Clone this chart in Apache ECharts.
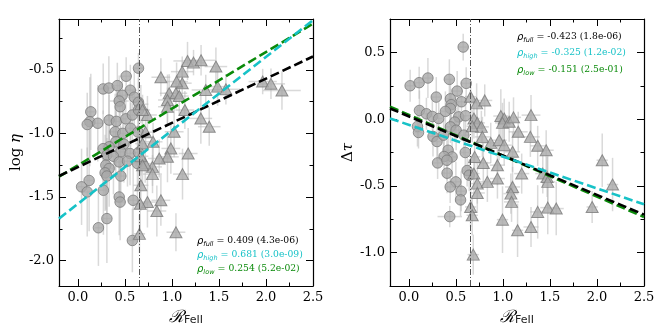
<!DOCTYPE html>
<html><head><meta charset="utf-8">
<script src="https://cdn.jsdelivr.net/npm/echarts@6/dist/echarts.min.js"></script>
<style>html,body{margin:0;padding:0;background:#fff}#c{width:664px;height:332px}</style>
</head><body><div id="c"></div>
<script>
// ---------- data: [x, y, xerr, yerr] ----------
const leftLow = [
[0.645,-0.487,0.05,0.12],[0.514,-0.55,0.06,0.15],[0.27,-0.65,0.05,0.2],[0.33,-0.643,0.08,0.25],
[0.42,-0.624,0.05,0.18],[0.558,-0.66,0.07,0.2],[0.472,-0.70,0.06,0.15],[0.44,-0.745,0.1,0.2],
[0.60,-0.715,0.06,0.22],[0.645,-0.755,0.05,0.15],[0.45,-0.79,0.05,0.2],[0.138,-0.83,0.04,0.3],
[0.128,-0.908,0.05,0.35],[0.10,-0.93,0.04,0.25],[0.212,-0.92,0.06,0.3],[0.333,-0.895,0.05,0.2],
[0.41,-0.905,0.07,0.25],[0.51,-0.885,0.06,0.2],[0.58,-0.855,0.05,0.2],[0.645,-0.816,0.04,0.25],
[0.397,-0.987,0.06,0.3],[0.478,-1.0,0.05,0.25],[0.562,-0.96,0.06,0.2],[0.64,-0.99,0.05,0.2],
[0.404,-1.066,0.06,0.25],[0.49,-1.085,0.05,0.3],[0.333,-1.105,0.05,0.25],[0.269,-1.12,0.04,0.3],
[0.457,-1.145,0.06,0.2],[0.555,-1.158,0.05,0.25],[0.645,-1.15,0.05,0.3],[0.309,-1.17,0.05,0.25],
[0.379,-1.18,0.06,0.3],[0.44,-1.224,0.05,0.25],[0.528,-1.218,0.06,0.2],[0.634,-1.237,0.05,0.3],
[0.298,-1.25,0.04,0.35],[0.333,-1.276,0.05,0.3],[0.29,-1.31,0.05,0.3],[0.309,-1.335,0.05,0.3],
[0.457,-1.335,0.06,0.25],[0.12,-1.37,0.04,0.4],[0.04,-1.42,0.05,0.3],[0.10,-1.46,0.05,0.35],
[0.272,-1.447,0.05,0.35],[0.44,-1.5,0.05,0.3],[0.45,-1.54,0.06,0.3],[0.588,-1.526,0.05,0.35],
[0.309,-1.67,0.05,0.35],[0.219,-1.742,0.04,0.3],[0.58,-1.842,0.05,0.25]
];
const leftHigh = [
[1.166,-0.43,0.15,0.15],[1.23,-0.443,0.12,0.1],[1.31,-0.425,0.15,0.12],[1.468,-0.474,0.12,0.15],
[0.883,-0.558,0.1,0.15],[1.11,-0.514,0.12,0.12],[1.11,-0.605,0.1,0.15],[1.05,-0.592,0.12,0.15],
[0.971,-0.684,0.1,0.15],[1.043,-0.684,0.12,0.12],[0.953,-0.737,0.1,0.2],[1.078,-0.706,0.1,0.15],
[1.138,-0.816,0.1,0.15],[1.36,-0.658,0.15,0.12],[1.486,-0.632,0.12,0.15],[1.574,-0.653,0.15,0.12],
[1.965,-0.592,0.15,0.1],[2.053,-0.61,0.15,0.12],[2.17,-0.663,0.2,0.15],[1.308,-0.882,0.12,0.2],
[1.397,-0.947,0.12,0.15],[1.024,-0.987,0.1,0.2],[0.74,-0.855,0.1,0.15],[0.67,-0.77,0.08,0.15],
[0.688,-0.816,0.08,0.12],[0.953,-0.79,0.1,0.15],[0.72,-0.99,0.08,0.15],[0.80,-1.066,0.1,0.15],
[0.688,-1.08,0.08,0.15],[0.989,-1.118,0.1,0.2],[0.953,-1.184,0.12,0.2],[1.173,-1.158,0.1,0.2],
[0.865,-1.197,0.12,0.15],[0.794,-1.263,0.1,0.15],[0.794,-1.32,0.1,0.15],[0.716,-1.237,0.1,0.15],
[1.113,-1.32,0.1,0.2],[0.67,-1.408,0.08,0.2],[0.74,-1.54,0.1,0.2],[0.883,-1.526,0.1,0.2],
[0.84,-1.61,0.1,0.2],[0.663,-1.553,0.08,0.2],[1.043,-1.777,0.1,0.15],[0.655,-1.79,0.06,0.15],
[0.67,-1.18,0.08,0.15],[0.688,-1.25,0.08,0.15]
];
const rightLow = [
[0.578,0.54,0.05,0.1],[0.014,0.25,0.04,0.12],[0.11,0.273,0.05,0.12],[0.203,0.308,0.05,0.15],
[0.431,0.298,0.05,0.15],[0.61,0.268,0.05,0.12],[0.292,0.165,0.05,0.15],[0.514,0.21,0.06,0.15],
[0.442,0.152,0.05,0.15],[0.45,0.108,0.05,0.12],[0.56,0.13,0.05,0.15],[0.442,0.08,0.05,0.12],
[0.113,0.065,0.04,0.15],[0.187,0.04,0.05,0.12],[0.25,0.02,0.05,0.15],[0.318,0.005,0.04,0.12],
[0.389,0.058,0.05,0.15],[0.53,0.017,0.05,0.12],[0.603,0.025,0.05,0.15],[0.488,-0.022,0.05,0.15],
[0.442,-0.058,0.05,0.12],[0.503,-0.083,0.06,0.15],[0.092,-0.055,0.04,0.15],[0.103,-0.1,0.04,0.12],
[0.257,-0.13,0.05,0.15],[0.3,-0.168,0.05,0.15],[0.37,-0.12,0.05,0.12],[0.585,-0.12,0.05,0.15],
[0.6,-0.25,0.05,0.15],[0.418,-0.233,0.05,0.12],[0.46,-0.283,0.05,0.15],[0.375,-0.28,0.05,0.15],
[0.306,-0.328,0.05,0.12],[0.405,-0.308,0.06,0.15],[0.62,-0.385,0.05,0.12],[0.642,-0.42,0.04,0.12],
[0.407,-0.405,0.05,0.15],[0.5,-0.47,0.05,0.15],[0.44,-0.508,0.05,0.12],[0.557,-0.54,0.05,0.15],
[0.55,-0.605,0.05,0.12],[0.435,-0.73,0.13,0.08]
];
const rightHigh = [
[0.657,0.168,0.06,0.12],[0.721,0.118,0.08,0.15],[0.807,0.14,0.08,0.12],[0.692,0.005,0.06,0.15],
[0.728,-0.028,0.08,0.15],[0.771,-0.058,0.08,0.12],[0.674,-0.053,0.06,0.12],[0.782,-0.133,0.08,0.15],
[0.871,-0.178,0.08,0.15],[0.96,-0.158,0.08,0.15],[0.978,0.023,0.08,0.2],[1.014,0.005,0.08,0.15],
[0.996,-0.028,0.08,0.15],[1.067,-0.02,0.08,0.15],[1.113,0.013,0.08,0.15],[1.163,-0.095,0.1,0.15],
[1.299,0.03,0.1,0.15],[1.292,-0.133,0.1,0.15],[1.37,-0.2,0.08,0.15],[1.46,-0.233,0.08,0.15],
[1.014,-0.195,0.08,0.15],[1.103,-0.245,0.08,0.15],[0.942,-0.345,0.08,0.15],[0.70,-0.283,0.06,0.12],
[0.792,-0.328,0.08,0.15],[0.692,-0.408,0.06,0.15],[1.2,-0.408,0.08,0.15],[1.424,-0.408,0.08,0.15],
[1.47,-0.433,0.08,0.15],[1.477,-0.47,0.08,0.2],[0.728,-0.483,0.08,0.15],[0.835,-0.47,0.08,0.15],
[1.103,-0.508,0.08,0.15],[0.942,-0.445,0.08,0.15],[0.728,-0.553,0.08,0.15],[1.085,-0.558,0.08,0.15],
[1.092,-0.62,0.08,0.15],[0.657,-0.658,0.06,0.15],[0.674,-0.72,0.06,0.15],[0.996,-0.753,0.06,0.25],
[1.156,-0.833,0.06,0.2],[1.299,-0.808,0.08,0.15],[1.37,-0.695,0.08,0.2],[1.477,-0.663,0.08,0.2],
[1.567,-0.67,0.08,0.2],[1.949,-0.658,0.06,0.12],[2.056,-0.308,0.06,0.2],[2.166,-0.49,0.06,0.2],
[0.685,-1.015,0.06,0.15]
];
// fit lines: y at x = fitX[0], fitX[1]
const fitX = [-0.2, 2.5];
const leftFitFull = [-1.335, -0.395];
const leftFitHigh = [-1.67, -0.11];
const leftFitLow  = [-1.34, -0.137];
const rightFitFull = [0.08, -0.715];
const rightFitHigh = [0.005, -0.638];
const rightFitLow  = [0.093, -0.733];
const threshold = [0.65];
const xRange = [-0.2, 2.5];
const leftYRange = [-2.2, -0.1];
const rightYRange = [-1.25, 0.75];
const leftStats = [
  ['full', '0.409 (4.3e-06)'], ['high', '0.681 (3.0e-09)'], ['low', '0.254 (5.2e-02)']
];
const rightStats = [
  ['full', '-0.423 (1.8e-06)'], ['high', '-0.325 (1.2e-02)'], ['low', '-0.151 (2.5e-01)']
];

// ---------- styling ----------
const C_BLACK = '#000000', C_CYAN = '#17c2c7', C_GREEN = '#0a8a0a';
const statColors = {full: C_BLACK, high: C_CYAN, low: C_GREEN};
const SERIF = 'DejaVu Serif', SANS = 'DejaVu Sans';

function axis(kind, gridIndex, position, range, showLabels, name, nameGap, nameRich) {
  const a = {
    type: 'value', gridIndex, position, min: range[0], max: range[1],
    minInterval: 0.5, maxInterval: 0.5, splitNumber: 5,
    axisLine: {show: true, onZero: false, lineStyle: {color: '#000', width: 1.2}},
    axisTick: {show: true, inside: true, length: 7, lineStyle: {color: '#000', width: 1}},
    minorTick: {show: true, splitNumber: 2, length: 3.5, lineStyle: {color: '#000', width: 1}},
    splitLine: {show: false},
    axisLabel: {
      show: showLabels, fontFamily: SERIF, fontSize: 13, color: '#000', margin: 5,
      showMinLabel: kind === 'x' ? false : false,
      showMaxLabel: kind === 'x' ? true : false,
      formatter: v => v.toFixed(1)
    }
  };
  if (name) {
    a.name = name; a.nameLocation = 'middle'; a.nameGap = nameGap;
    a.nameTextStyle = {rich: nameRich};
    if (kind === 'y') a.nameRotate = 90;
  }
  return a;
}
const xRich = {
  r: {fontFamily: SERIF, fontSize: 17, fontStyle: 'italic', color: '#000'},
  s: {fontFamily: SANS, fontSize: 11, color: '#222', verticalAlign: 'bottom', padding: [6, 0, 0, 0]}
};
const yRich = {
  n: {fontFamily: SERIF, fontSize: 15, color: '#000'},
  e: {fontFamily: SERIF, fontSize: 15, fontStyle: 'italic', color: '#000'}
};

function errRender(params, api) {
  const x = api.value(0), y = api.value(1), xe = api.value(2), ye = api.value(3);
  const l = api.coord([x - xe, y]), r = api.coord([x + xe, y]);
  const t = api.coord([x, y + ye]), b = api.coord([x, y - ye]);
  const style = {stroke: 'rgba(185,185,185,0.55)', lineWidth: 1.5};
  return {type: 'group', children: [
    {type: 'line', shape: {x1: l[0], y1: l[1], x2: r[0], y2: r[1]}, style},
    {type: 'line', shape: {x1: t[0], y1: t[1], x2: b[0], y2: b[1]}, style}
  ]};
}
const markerStyle = {color: '#a9a9a9', borderColor: '#7a7a7a', borderWidth: 1};

function panelSeries(ax, low, high, fits) {
  const s = [];
  s.push({type: 'custom', xAxisIndex: ax, yAxisIndex: ax, data: low, renderItem: errRender, clip: true, z: 1, silent: true});
  s.push({type: 'custom', xAxisIndex: ax, yAxisIndex: ax, data: high, renderItem: errRender, clip: true, z: 1, silent: true});
  s.push({type: 'scatter', xAxisIndex: ax, yAxisIndex: ax, data: low.map(d => [d[0], d[1]]),
    symbol: 'circle', symbolSize: 10.5, itemStyle: markerStyle, z: 3, silent: true});
  s.push({type: 'scatter', xAxisIndex: ax, yAxisIndex: ax, data: high.map(d => [d[0], d[1]]),
    symbol: 'triangle', symbolSize: [12, 11], itemStyle: markerStyle, z: 3, silent: true});
  const order = [['low', C_GREEN], ['full', C_BLACK], ['high', C_CYAN]];
  order.forEach(([k, col], i) => {
    const ser = {type: 'line', xAxisIndex: ax, yAxisIndex: ax, showSymbol: false, silent: true,
      data: [[fitX[0], fits[k][0]], [fitX[1], fits[k][1]]],
      lineStyle: {color: col, width: 2.6, type: [9, 4]}, z: 5 + i, clip: true};
    if (k === 'high') {
      ser.markLine = {silent: true, symbol: 'none', label: {show: false},
        lineStyle: {color: '#555', width: 1, type: [6, 2, 1, 2]},
        data: threshold.map(v => ({xAxis: v}))};
    }
    s.push(ser);
  });
  return s;
}

function statGraphics(stats, x, ys) {
  return stats.map((st, i) => ({
    type: 'text', x, y: ys[i],
    style: {
      text: `{r|ρ}{s|${st[0]}}{e| = }{n|${st[1]}}`,
      verticalAlign: 'middle', align: 'left',
      rich: {
        r: {fontFamily: SANS, fontStyle: 'italic', fontSize: 10, fill: statColors[st[0]], lineHeight: 14},
        s: {fontFamily: SANS, fontStyle: 'italic', fontSize: 6.5, fill: statColors[st[0]], verticalAlign: 'bottom', lineHeight: 14},
        e: {fontFamily: SANS, fontSize: 9.5, fill: statColors[st[0]], lineHeight: 14},
        n: {fontFamily: SERIF, fontSize: 9.2, fill: statColors[st[0]], lineHeight: 14}
      }
    }
  }));
}

const chart = echarts.init(document.getElementById('c'), null, {renderer: 'canvas'});
chart.setOption({
  animation: false,
  backgroundColor: '#fff',
  grid: [
    {left: 59, top: 19, width: 254, height: 267},
    {left: 390, top: 19, width: 254, height: 267}
  ],
  xAxis: [
    axis('x', 0, 'bottom', xRange, true, '{r|ℛ}{s|FeII}', 19, xRich),
    axis('x', 1, 'bottom', xRange, true, '{r|ℛ}{s|FeII}', 19, xRich),
    axis('x', 0, 'top', xRange, false),
    axis('x', 1, 'top', xRange, false)
  ],
  yAxis: [
    axis('y', 0, 'left', leftYRange, true, '{n|log }{e|η}', 35, yRich),
    axis('y', 1, 'left', rightYRange, true, '{n|Δ}{e|τ}', 34, yRich),
    axis('y', 0, 'right', leftYRange, false),
    axis('y', 1, 'right', rightYRange, false)
  ],
  series: [
    ...panelSeries(0, leftLow, leftHigh, {full: leftFitFull, high: leftFitHigh, low: leftFitLow}),
    ...panelSeries(1, rightLow, rightHigh, {full: rightFitFull, high: rightFitHigh, low: rightFitLow})
  ],
  graphic: [
    ...statGraphics(leftStats, 197, [241, 255, 269]),
    ...statGraphics(rightStats, 517, [37, 53, 70])
  ]
});
</script>
</body></html>
